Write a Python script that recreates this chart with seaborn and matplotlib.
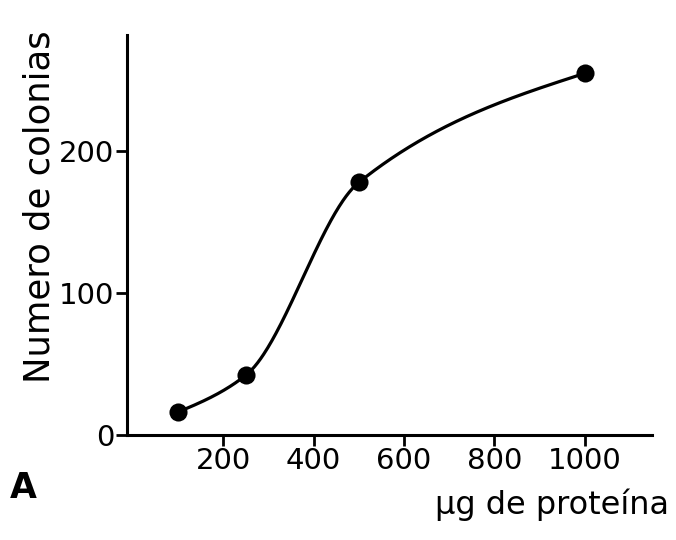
import numpy as np
import pandas as pd
import matplotlib
matplotlib.use("Agg")
import matplotlib.pyplot as plt
import seaborn as sns

# Data
protein_ug = [100, 250, 500, 1000]
colonies = [16, 42, 178, 255]
x_ticks = [200, 400, 600, 800, 1000]
y_ticks = [0, 100, 200]
x_label = "µg de proteína"
y_label = "Numero de colonias"
panel_label = "A"

sns.set_theme(style="ticks")
plt.rcParams['font.family'] = ['DejaVu Sans']
plt.rcParams['text.color'] = 'black'
plt.rcParams['axes.labelcolor'] = 'black'


def smooth_curve(xk, yk, xs):
    """Shape-preserving Hermite interpolation with natural end slopes."""
    xk = np.asarray(xk, float)
    yk = np.asarray(yk, float)
    h = np.diff(xk)
    d = np.diff(yk) / h
    n = len(xk)
    m = np.zeros(n)
    for k in range(1, n - 1):
        if d[k - 1] * d[k] > 0:
            w1 = 2 * h[k] + h[k - 1]
            w2 = h[k] + 2 * h[k - 1]
            m[k] = (w1 + w2) / (w1 / d[k - 1] + w2 / d[k])
    m[0] = max((3 * d[0] - m[1]) / 2, 0)
    m[-1] = max((3 * d[-1] - m[-2]) / 2, 0)
    out = np.empty_like(xs)
    for i, x in enumerate(xs):
        k = min(max(np.searchsorted(xk, x, side='right') - 1, 0), n - 2)
        t = (x - xk[k]) / h[k]
        h00 = 2 * t**3 - 3 * t**2 + 1
        h10 = t**3 - 2 * t**2 + t
        h01 = -2 * t**3 + 3 * t**2
        h11 = t**3 - t**2
        out[i] = h00 * yk[k] + h10 * h[k] * m[k] + h01 * yk[k + 1] + h11 * h[k] * m[k + 1]
    return out


df = pd.DataFrame({"x": protein_ug, "y": colonies})
xs = np.linspace(min(protein_ug), max(protein_ug), 400)
curve = pd.DataFrame({"x": xs, "y": smooth_curve(protein_ug, colonies, xs)})

fig = plt.figure(figsize=(6.76, 5.4), dpi=100)
ax = fig.add_axes([0.188, 0.195, 0.777, 0.74])

sns.lineplot(data=curve, x="x", y="y", ax=ax, color="black", linewidth=2.3)
sns.scatterplot(data=df, x="x", y="y", ax=ax, color="black", s=170,
                edgecolor="black", linewidth=0, zorder=5)

ax.set_xlim(-13, 1150)
ax.set_ylim(0, 282)
ax.set_xticks(x_ticks)
ax.set_yticks(y_ticks)
ax.tick_params(axis='both', direction='out', length=8, width=2, labelsize=21,
               color='black', labelcolor='black', pad=1)
for side in ['top', 'right']:
    ax.spines[side].set_visible(False)
for side in ['left', 'bottom']:
    ax.spines[side].set_linewidth(2.2)
    ax.spines[side].set_color('black')

ax.set_xlabel("")
ax.set_ylabel("")
fig.text(0.059, 0.617, y_label, rotation=90, ha='center', va='center',
         fontsize=25.5, color='black')
fig.text(0.99, 0.035, x_label, ha='right', va='bottom', fontsize=23,
         color='black')
fig.text(0.015, 0.065, panel_label, ha='left', va='bottom', fontsize=25,
         fontweight='bold', color='black')

fig.savefig("out.png", dpi=100)
